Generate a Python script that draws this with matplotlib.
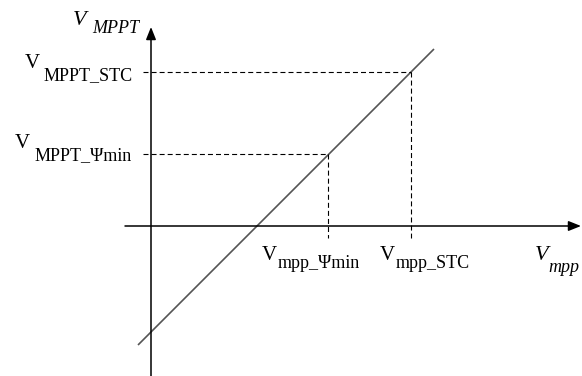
import matplotlib
matplotlib.use('Agg')
import matplotlib.pyplot as plt

plt.rcParams['font.family'] = ['Liberation Serif', 'DejaVu Serif']
plt.rcParams['lines.scale_dashes'] = False

# operating points (1 unit = 10 px, origin at the axis cross)
v_mpp = [17.7, 26.0]          # V_mpp_Ymin, V_mpp_STC
v_mppt = [7.2, 15.4]          # V_MPPT_Ymin, V_MPPT_STC
line_x = [-1.3, 28.3]         # diagonal characteristic
line_y = [-11.9, 17.7]
x_labels = ['mpp_\u03a8min', 'mpp_STC']
y_labels = ['MPPT_\u03a8min', 'MPPT_STC']

BIG = 15
SUB = 13


def put(ax, xy, txt, off, size, italic=False):
    ax.annotate(txt, xy=xy, xycoords='data', xytext=off, textcoords='offset pixels',
                ha='left', va='baseline', fontsize=size,
                fontstyle='italic' if italic else 'normal', annotation_clip=False)


fig = plt.figure(figsize=(5.82, 3.76), dpi=100)
ax = fig.add_axes([0, 0, 1, 1])
ax.set_xlim(-15.1, 43.1)
ax.set_ylim(-15.0, 22.6)
ax.axis('off')

# axes with arrow heads
arrow = dict(arrowstyle='-|>,head_length=0.75,head_width=0.3', color='black',
             lw=1.1, shrinkA=0, shrinkB=0, mutation_scale=10)
ax.annotate('', xy=(43.0, 0), xytext=(-2.6, 0), arrowprops=arrow)
ax.annotate('', xy=(0, 19.9), xytext=(0, -15.5), arrowprops=arrow)

# characteristic
ax.plot(line_x, line_y, color='#555555', lw=1.2, solid_capstyle='butt')

# dashed guides
for xv, yv in zip(v_mpp, v_mppt):
    ax.plot([-0.8, xv], [yv, yv], color='black', lw=0.8, dashes=(3.6, 2.2))
    ax.plot([xv, xv], [yv, -1.2], color='black', lw=0.8, dashes=(3.6, 2.2))

# tick labels on the x axis
for xv, lab in zip(v_mpp, x_labels):
    off = -66 if lab.endswith('min') else -31
    put(ax, (xv, 0), 'V', (off, -34), BIG)
    put(ax, (xv, 0), lab, (off + 16, -42), SUB)

# tick labels on the y axis
put(ax, (0, v_mppt[1]), 'V', (-126, 4), BIG)
put(ax, (0, v_mppt[1]), y_labels[1], (-107, -8), SUB)
put(ax, (0, v_mppt[0]), 'V', (-136, 6), BIG)
put(ax, (0, v_mppt[0]), y_labels[0], (-116, -6), SUB)

# axis titles
put(ax, (43.1, 0), 'V', (-47, -34), BIG + 1, italic=True)
put(ax, (43.1, 0), 'mpp', (-34, -46), SUB, italic=True)
put(ax, (0, 19.9), 'V', (-78, 2), BIG + 1, italic=True)
put(ax, (0, 19.9), 'MPPT', (-59, -6), SUB, italic=True)

fig.savefig('out.png', dpi=100)
